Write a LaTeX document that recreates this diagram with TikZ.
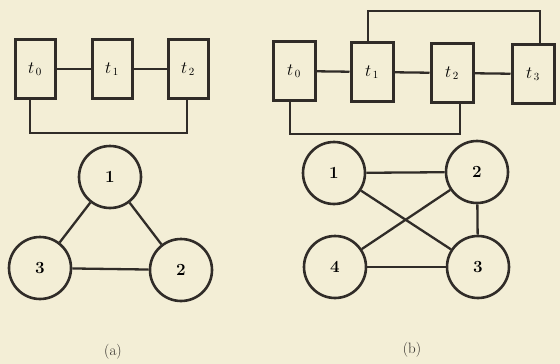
\documentclass[tikz,border=0pt]{standalone}
\usepackage{tikz}
\definecolor{paper}{RGB}{243,238,214}
\definecolor{ink}{RGB}{48,44,40}
\tikzset{
  task/.style={draw=ink,line width=3pt,minimum width=40pt,minimum height=59pt,inner sep=0pt,font=\fontsize{16}{18}\selectfont},
  vertex/.style={circle,draw=ink,line width=2.6pt,minimum size=62pt,inner sep=0pt,font=\fontsize{17}{20}\selectfont\bfseries},
  link/.style={draw=ink,line width=2.3pt},
  caption/.style={font=\fontsize{15}{18}\selectfont,text=ink}
}
\begin{document}
\begin{tikzpicture}[x=1pt,y=-1pt]
\fill[paper] (0,0) rectangle (560,364);
% (a) tasks
\node[task] (a0) at (35,69) {$t_{\,0}$};
\node[task] (a1) at (112,69) {$t_{\,1}$};
\node[task] (a2) at (188,69) {$t_{\,2}$};
\draw[link] (a0) -- (a1);
\draw[link] (a1) -- (a2);
\draw[link] ([xshift=-5pt]a0.south) -- ++(0,33) -| ([xshift=-1pt]a2.south);
% (b) tasks
\node[task,minimum width=42pt] (b0) at (294,71) {$t_{\,0}$};
\node[task,minimum width=42pt] (b1) at (372,72) {$t_{\,1}$};
\node[task,minimum width=42pt] (b2) at (452,73) {$t_{\,2}$};
\node[task,minimum width=42pt] (b3) at (533,74) {$t_{\,3}$};
\draw[link] (b0) -- (b1);
\draw[link] (b1) -- (b2);
\draw[link] (b2) -- (b3);
\draw[link] ([xshift=-4pt]b1.north) -- ++(0,-30) -| ([xshift=7pt]b3.north);
\draw[link] ([xshift=-4pt]b0.south) -- ++(0,32) -| ([xshift=8pt]b2.south);
% (a) graph
\node[vertex] (c1) at (110,177) {1};
\node[vertex] (c2) at (181,270) {2};
\node[vertex] (c3) at (40,268) {3};
\draw[link] (c1) -- (c2);
\draw[link] (c1) -- (c3);
\draw[link] (c3) -- (c2);
% (b) graph
\node[vertex] (d1) at (334,173) {1};
\node[vertex] (d2) at (477,172) {2};
\node[vertex] (d3) at (478,267) {3};
\node[vertex] (d4) at (335,267) {4};
\draw[link] (d1) -- (d2);
\draw[link] (d1) -- (d3);
\draw[link] (d2) -- (d4);
\draw[link] (d2) -- (d3);
\draw[link] (d4) -- (d3);
\node[caption] (capa) at (113,352) {(a)};
\node[caption] (capb) at (412,350) {(b)};
\end{tikzpicture}
\end{document}
